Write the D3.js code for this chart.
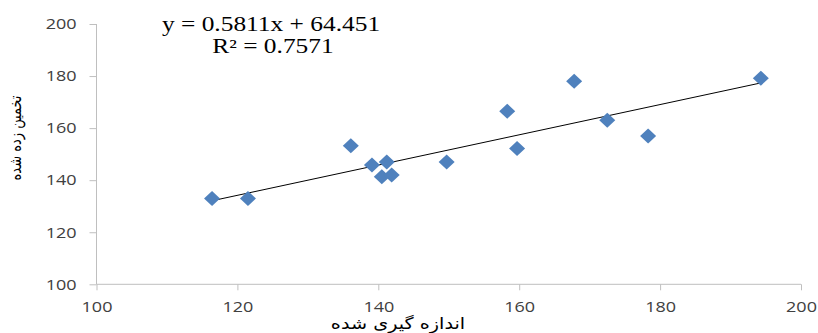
<!DOCTYPE html>
<html>
<head>
<meta charset="utf-8">
<script src="https://cdn.jsdelivr.net/npm/d3@7"></script>
<style>
  body { margin: 0; background: #fff; }
  svg { display: block; }
  .tick text { font-family: "Open Sans", "Liberation Sans", sans-serif; font-size: 15px; fill: #404040; }
</style>
</head>
<body>
<svg width="818" height="333"></svg>
<script>
//  data
var measured  = [116.4, 121.5, 136.1, 139.1, 141.2, 140.5, 141.9, 149.7, 158.3, 159.7, 167.8, 172.5, 178.3, 194.3];
var estimated = [133.0, 133.0, 153.2, 145.8, 147.0, 141.3, 142.0, 147.0, 166.5, 152.2, 178.0, 163.0, 157.0, 179.2];
var xTicks = [100, 120, 140, 160, 180, 200];
var yTicks = [100, 120, 140, 160, 180, 200];
var slope = 0.5811;
var intercept = 64.451;
var equationText = "y = 0.5811x + 64.451";
var rSquaredText = "R² = 0.7571";
var xLabel = "اندازه گیری شده";
var yLabel = "تخمین زده شده";

var svg = d3.select("svg");

//  plot area (avoid global names like "top")
var plotLeft = 96.5, plotRight = 801, plotTop = 24, plotBottom = 284.3;
var stretch = 1.2; // the source picture is stretched sideways

var x = d3.scaleLinear().domain([100, 200]).range([plotLeft, plotRight]);
var y = d3.scaleLinear().domain([100, 200]).range([plotBottom, plotTop]);

var axisColor = "#bfbfbf";

//  x axis
var gx = svg.append("g")
  .attr("transform", "translate(0," + plotBottom + ")")
  .call(d3.axisBottom(x).tickValues(xTicks).tickSize(6).tickPadding(11).tickFormat(d3.format("d")));
gx.select(".domain").attr("stroke", axisColor).attr("d", "M" + plotLeft + ",0H" + plotRight);
gx.selectAll(".tick line").attr("stroke", axisColor);
gx.selectAll(".tick text").attr("transform", "scale(" + stretch + ",1)");

//  y axis
var gy = svg.append("g")
  .attr("transform", "translate(" + plotLeft + ",0)")
  .call(d3.axisLeft(y).tickValues(yTicks).tickSize(7).tickPadding(13).tickFormat(d3.format("d")));
gy.select(".domain").attr("stroke", axisColor).attr("d", "M0," + plotBottom + "V" + plotTop);
gy.selectAll(".tick line").attr("stroke", axisColor);
gy.selectAll(".tick text")
  .attr("x", 0)
  .attr("transform", "translate(-20,0) scale(" + stretch + ",1)");

//  trend line
var xMin = d3.min(measured), xMax = d3.max(measured);
svg.append("line")
  .attr("x1", x(xMin)).attr("y1", y(slope * xMin + intercept))
  .attr("x2", x(xMax)).attr("y2", y(slope * xMax + intercept))
  .attr("stroke", "#000")
  .attr("stroke-width", 1);

//  diamond markers
var points = measured.map(function(d, i) { return { x: d, y: estimated[i] }; });
svg.append("g").selectAll("path").data(points)
  .enter().append("path")
    .attr("d", "M0,-7.5L8,0L0,7.5L-8,0Z")
    .attr("transform", function(d) { return "translate(" + x(d.x) + "," + y(d.y) + ")"; })
    .attr("fill", "#4f81bd");

//  equation labels
svg.append("text")
  .attr("transform", "translate(271,31) scale(1.27,1)")
  .attr("text-anchor", "middle")
  .attr("font-family", "Liberation Serif, serif")
  .attr("font-size", 20)
  .text(equationText);
svg.append("text")
  .attr("transform", "translate(273,53) scale(1.27,1)")
  .attr("text-anchor", "middle")
  .attr("font-family", "Liberation Serif, serif")
  .attr("font-size", 20)
  .text(rSquaredText);

//  axis titles
svg.append("text")
  .attr("transform", "translate(398,329) scale(1.2,1)")
  .attr("text-anchor", "middle")
  .attr("font-family", "DejaVu Sans, Noto Sans, sans-serif")
  .attr("font-size", 16)
  .attr("direction", "rtl")
  .text(xLabel);

svg.append("text")
  .attr("transform", "translate(21,138) scale(1.25,1) rotate(-90)")
  .attr("text-anchor", "middle")
  .attr("font-family", "DejaVu Sans, Noto Sans, sans-serif")
  .attr("font-size", 13)
  .attr("direction", "rtl")
  .text(yLabel);
</script>
</body>
</html>
